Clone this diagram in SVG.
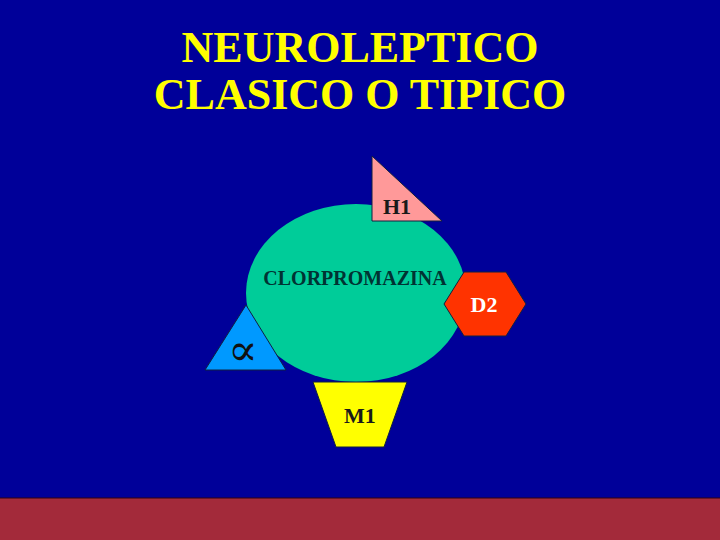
<svg xmlns="http://www.w3.org/2000/svg" width="720" height="540" viewBox="0 0 720 540">
<style>
.title{font-family:"Liberation Serif","Times New Roman",serif;font-weight:bold;font-size:44px;fill:#FFFF00;text-anchor:middle}
.lbl{font-family:"Liberation Serif","Times New Roman",serif;font-weight:bold;text-anchor:middle}
.shape{stroke:#102040;stroke-width:1}
</style>
<rect x="0" y="0" width="720" height="540" fill="#000099"/>
<rect x="0" y="498" width="720" height="42" fill="#A32A3A"/>
<line x1="0" y1="498" x2="720" y2="498" stroke="#300010" stroke-width="1"/>
<g id="title">
<text class="title" x="360" y="62">NEUROLEPTICO</text>
<text class="title" x="360" y="109">CLASICO O TIPICO</text>
</g>
<g id="connectors"></g>
<g id="clorpromazina">
<ellipse cx="356" cy="293" rx="110" ry="89" fill="#00CC99"/>
<text class="lbl" x="355" y="285" font-size="20" fill="#003333">CLORPROMAZINA</text>
</g>
<g id="h1">
<polygon class="shape" points="372,156 372,221 442,221" fill="#FF9999"/>
<text class="lbl" x="397" y="214" font-size="22" fill="#1a1a1a">H1</text>
</g>
<g id="d2">
<polygon class="shape" points="444,304 464,272 506,272 526,304 506,336 464,336" fill="#FF3300"/>
<text class="lbl" x="484" y="312" font-size="22" fill="#FFFFFF">D2</text>
</g>
<g id="alpha">
<polygon class="shape" points="246,305 205,370 286,370" fill="#0099FF"/>
<text x="243" y="365" font-family="'DejaVu Serif',serif" font-size="44" text-anchor="middle" fill="#111111">∝</text>
</g>
<g id="m1">
<polygon class="shape" points="313,382 407,382 384,447 336,447" fill="#FFFF00"/>
<text class="lbl" x="360" y="423" font-size="22" fill="#1a1a1a">M1</text>
</g>
</svg>
